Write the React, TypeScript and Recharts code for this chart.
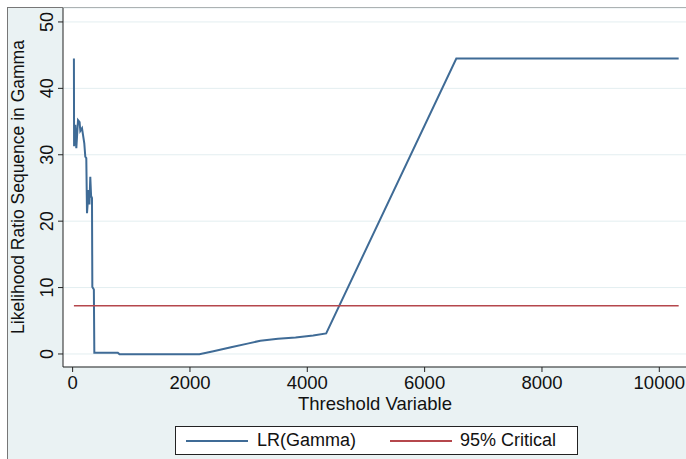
import { CartesianGrid, Label, Legend, Line, LineChart, XAxis, YAxis } from 'recharts';

// LR(Gamma) sequence
const lrX = [22, 25, 46, 63, 92, 119, 131, 160, 177, 199, 216, 233, 245, 273, 287, 301, 315, 330, 336, 362, 370, 770, 800, 2160, 2400, 2700, 3000, 3200, 3500, 3800, 4100, 4322, 6540, 10330];
const lrY = [44.5, 31.3, 34.5, 31.0, 35.2, 34.9, 33.6, 34.0, 33.0, 31.7, 29.7, 29.5, 21.2, 24.7, 22.5, 26.7, 23.8, 23.5, 10.1, 9.7, 0.2, 0.2, -0.05, -0.05, 0.4, 1.0, 1.6, 2.0, 2.3, 2.5, 2.8, 3.1, 44.5, 44.5];

const critX = [22, 10330];
const critY = [7.27, 7.27];

const xTicks = [0, 2000, 4000, 6000, 8000, 10000];
const yTicks = [0, 10, 20, 30, 40, 50];
const legendOrder = ['LR(Gamma)', '95% Critical'];

const lrData = lrX.map((x, i) => ({ x, y: lrY[i] }));
const critData = critX.map((x, i) => ({ x, y: critY[i] }));

const FONT = '"Liberation Sans", Arial, sans-serif';
const BLUE = '#3f6b96';
const RED = '#b5474c';

const XTick = ({ x, y, payload }: any) => (
  <text x={x} y={y} dy={15} textAnchor="middle" fontSize={18.5} fontFamily={FONT} fill="#111">
    {payload.value}
  </text>
);

const YTick = ({ x, y, payload }: any) => (
  <text x={x - 3} y={y} transform={`rotate(-90 ${x - 3} ${y})`} textAnchor="middle" fontSize={18} fontFamily={FONT} fill="#111">
    {payload.value}
  </text>
);

const LegendBox = ({ payload }: any) => {
  const items = [...(payload ?? [])].sort((a: any, b: any) => legendOrder.indexOf(a.value) - legendOrder.indexOf(b.value));
  return (
    <div
      style={{
        position: 'relative',
        width: 401,
        height: 27,
        background: '#fff',
        border: '1px solid #222',
        fontFamily: FONT,
        fontSize: 18,
        color: '#111',
        whiteSpace: 'nowrap',
      }}
    >
      {items.map((p: any, i: number) => (
        <div key={p.value}>
          <div style={{ position: 'absolute', left: i === 0 ? 10 : 214, top: 13, width: 62, height: 2, background: p.color }} />
          <span style={{ position: 'absolute', left: i === 0 ? 81 : 284, top: 3 }}>{p.value}</span>
        </div>
      ))}
    </div>
  );
};

export default function App() {
  return (
    <div style={{ position: 'absolute', left: 0, top: 0, width: 686, height: 459, background: '#fff', overflow: 'hidden' }}>
      <div
        style={{
          position: 'absolute',
          left: 7,
          top: 7,
          width: 690,
          height: 460,
          background: '#eaf2f3',
          borderTop: '1px solid #777',
          borderLeft: '1px solid #777',
        }}
      />
      <div style={{ position: 'absolute', left: 0, top: 0 }}>
        <LineChart width={686} height={459} margin={{ top: 8, right: 0, left: 0, bottom: 0 }}>
          <CartesianGrid vertical={false} stroke="#e3eef0" fill="#fff" />
          <XAxis
            type="number"
            dataKey="x"
            domain={[-164, 10455]}
            ticks={xTicks}
            tick={<XTick />}
            tickSize={5}
            height={63}
            stroke="#222"
            allowDataOverflow
          >
            <Label
              content={() => (
                <text x={375} y={410} textAnchor="middle" fontSize={18.5} fontFamily={FONT} fill="#111">
                  Threshold Variable
                </text>
              )}
            />
          </XAxis>
          <YAxis
            type="number"
            dataKey="y"
            domain={[-1.96, 52.1]}
            ticks={yTicks}
            tick={<YTick />}
            tickSize={5}
            width={63}
            stroke="#222"
            allowDataOverflow
          >
            <Label
              content={() => (
                <text x={24} y={187} transform="rotate(-90 24 187)" textAnchor="middle" fontSize={17.5} fontFamily={FONT} fill="#111">
                  Likelihood Ratio Sequence in Gamma
                </text>
              )}
            />
          </YAxis>
          <Line data={lrData} dataKey="y" name="LR(Gamma)" type="linear" stroke={BLUE} strokeWidth={2} dot={false} isAnimationActive={false} />
          <Line data={critData} dataKey="y" name="95% Critical" type="linear" stroke={RED} strokeWidth={1.5} dot={false} isAnimationActive={false} />
          <Legend
            content={<LegendBox />}
            wrapperStyle={{ position: 'absolute', left: 175, top: 426, width: 'auto' }}
          />
        </LineChart>
      </div>
    </div>
  );
}
